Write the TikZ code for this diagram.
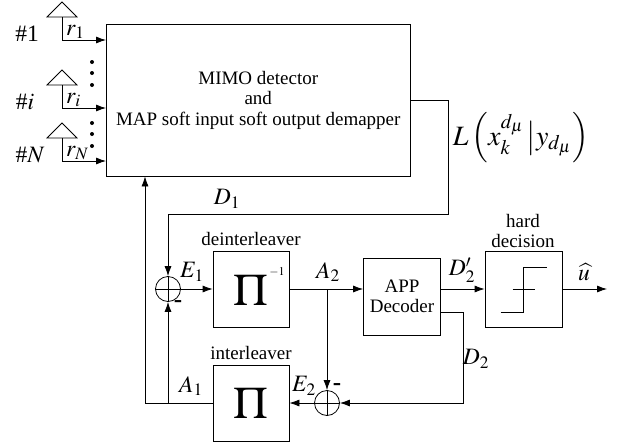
\documentclass[tikz,border=0pt]{standalone}
\usepackage{mathptmx}
\usepackage{fontspec}
\setmainfont{Liberation Serif}
\usetikzlibrary{arrows.meta}
\newcommand{\textsz}{\fontsize{19}{20.5}\selectfont}
\newcommand{\mathsz}{\fontsize{23.5}{25}\selectfont}
\tikzset{
	block/.style={draw, line width=.8pt, inner sep=0pt, align=center, font=\textsz},
	sumnode/.style={draw, line width=.8pt, circle, minimum size=25pt, inner sep=0pt},
	caption/.style={inner sep=0pt, align=center, font=\textsz},
	sig/.style={inner sep=0pt, font=\mathsz},
	sign/.style={inner sep=0pt, font=\bfseries\fontsize{25}{25}\selectfont},
	wire/.style={line width=.8pt},
	arrow/.style={line width=.8pt, -{Latex[length=10pt,width=7pt]}}
}
\begin{document}
\begin{tikzpicture}[x=1pt, y=-1pt]
	\useasboundingbox (0,0) rectangle (620,447);
	
	\node[block, minimum width=304.5pt, minimum height=152pt] (detector) at (258.25,100) {MIMO detector\\and\\MAP soft input soft output demapper};
	\node[block, minimum width=76pt, minimum height=76pt] (deint) at (251,289) {};
	\node[block, minimum width=76pt, minimum height=76pt] (inter) at (251,403) {};
	\node[block, minimum width=77pt, minimum height=77pt] (app) at (402,296.5) {APP\\Decoder};
	\node[block, minimum width=77pt, minimum height=76pt] (hard) at (523.5,289) {};
	\node[sumnode] (sum1) at (168,289) {};
	\node[sumnode] (sum2) at (327,403) {};
	
	\draw[wire] (sum1.north) -- (sum1.south) (sum1.west) -- (sum1.east);
	\draw[wire] (sum2.north) -- (sum2.south) (sum2.west) -- (sum2.east);
	
	\node[inner sep=0pt, font=\fontsize{45}{45}\selectfont] (pi1) at (251,290) {$\Pi$};
	\node[inner sep=0pt, font=\fontsize{45}{45}\selectfont] (pi2) at (251,403) {$\Pi$};
	\node[inner sep=0pt, font=\fontsize{12}{12}\selectfont] (inv) at (277,272) {$-1$};
	
	% receive antennas
	\foreach \n/\y/\t in {1/2/r_1, i/70/r_i, N/123/r_N}{
		\draw[wire] (62,\y) -- (47,\y+15) -- (77,\y+15) -- cycle;
		\coordinate (ant\n) at (62,\y+15);
		\coordinate (in\n) at (106,\y+38);
		\draw[arrow] (ant\n) |- (in\n);
		\node[sig, anchor=base west] (lab\n) at (66,\y+33) {$\t$};
	}
	\node[sig] (num1) at (27,34) {\#1};
	\node[sig] (numi) at (25,102) {\#$i$};
	\node[sig] (numN) at (30,155) {\#$N$};
	
	\foreach \y in {62,73,85,123,134,146}
		\fill (92,\y) circle (2);
	
	% feedback
	\coordinate (outtop) at (410.5,100);
	\coordinate (corner1) at (448,214);
	\draw[arrow] (outtop) -| (corner1) -| (sum1.north);
	\node[sig] (d1) at (227,199) {$D_1$};
	\node[sig, font=\fontsize{28}{30}\selectfont] (llr) at (521,138) {$L\left(x_k^{d_\mu}\left|y_{d_\mu}\right.\right)$};
	
	\draw[arrow] (sum1.east) -- (deint.west);
	\node[sig] (e1) at (192,272) {$E_1$};
	\node[caption] (deintlab) at (251,239) {deinterleaver};
	\node[caption] (interlab) at (251,353) {interleaver};
	
	\coordinate (a2) at (327,289);
	\draw[arrow] (deint.east) -- (app.west |- a2);
	\draw[arrow] (a2) -- (sum2.north);
	\node[sig] (a2lab) at (328,272) {$A_2$};
	
	\draw[arrow] (app.east |- deint.east) -- (hard.west);
	\node[sig] (d2p) at (462,270) {$D_2'$};
	\node[caption] (hardlab) at (523,231) {hard\\decision};
	\coordinate (uhat) at (607,289);
	\draw[arrow] (hard.east) -- (uhat);
	\node[sig] (ulab) at (584,272) {$\widehat{u}$};
	
	\coordinate (appout) at (440.5,312);
	\coordinate (corner2) at (463,403);
	\draw[arrow] (appout) -| (corner2) -- (sum2.east);
	\node[sig] (d2) at (476,359) {$D_2$};
	\draw[arrow] (sum2.west) -- (inter.east);
	\node[sig] (e2) at (304,386) {$E_2$};
	
	\coordinate (a1) at (168,403);
	\coordinate (corner3) at (145,403);
	\draw[wire] (inter.west) -- (corner3);
	\draw[arrow] (corner3) -- (detector.south -| corner3);
	\draw[arrow] (a1) -- (sum1.south);
	\node[sig] (a1lab) at (191,386) {$A_1$};
	
	\node[sign] (minus1) at (178,304) {-};
	\node[sign] (minus2) at (337,387) {-};
	
	% hard decision curve
	\draw[wire, shift={(hard.center)}] (-23,23) -- (0,23) -- (0,-22) -- (23,-22) (-11,0) -- (11,0);
\end{tikzpicture}
\end{document}
